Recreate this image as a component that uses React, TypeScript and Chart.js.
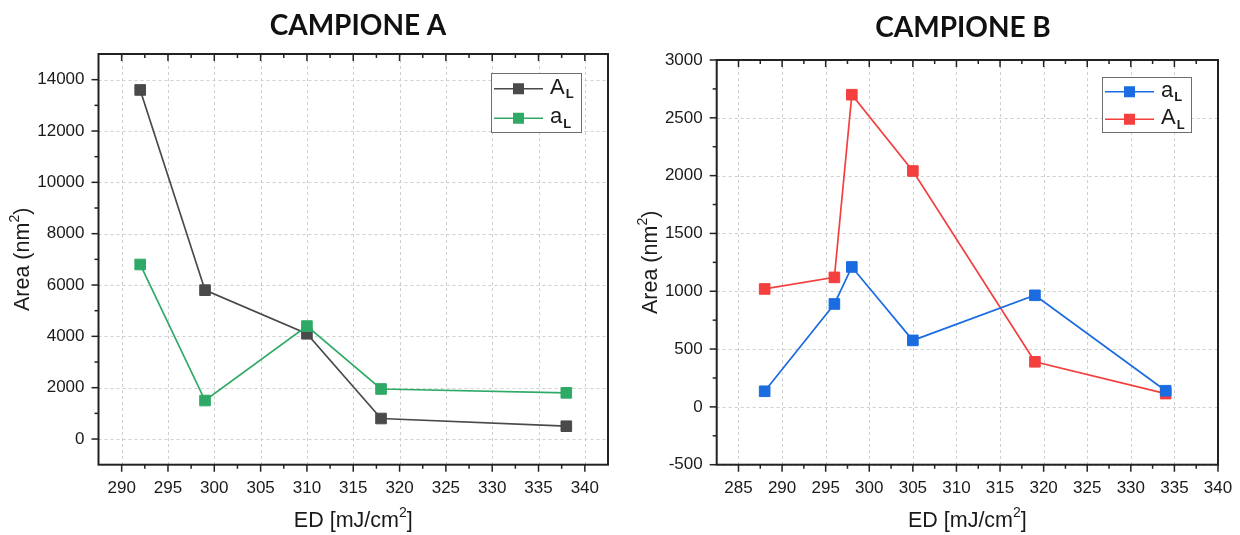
import React, { useEffect, useRef } from "react";
import { Chart, registerables } from "chart.js";

Chart.register(...registerables);

// ---- Campione A ----
const edA = [292, 299, 310, 318, 338];
const bigAreaA = [13600, 5800, 4100, 800, 500]; // A_L
const smallAreaA = [6800, 1500, 4400, 1950, 1800]; // a_L
const xTicksA = [290, 295, 300, 305, 310, 315, 320, 325, 330, 335, 340];
const yTicksA = [0, 2000, 4000, 6000, 8000, 10000, 12000, 14000];

// ---- Campione B ----
const edB = [288, 296, 298, 305, 319, 334];
const smallAreaB = [135, 890, 1210, 575, 965, 140]; // a_L
const bigAreaB = [1020, 1120, 2700, 2040, 390, 115]; // A_L
const xTicksB = [285, 290, 295, 300, 305, 310, 315, 320, 325, 330, 335, 340];
const yTicksB = [-500, 0, 500, 1000, 1500, 2000, 2500, 3000];

const FONT = "'Liberation Sans', Arial, sans-serif";

type LegendItem = { color: string; main: string; sub: string };

type FrameOpts = {
  title: string;
  titleX: number;
  titleY: number;
  xTicks: number[];
  yTicks: number[];
  xStep: number;
  yStep: number;
  legend: { x: number; y: number; w: number; h: number; items: LegendItem[] };
  yTitleX: number;
  xTitleY: number;
};

// draw text runs (with raised/lowered small parts), centred on (cx, cy)
function drawScripted(
  ctx: CanvasRenderingContext2D,
  parts: { t: string; size: number; dy: number; bold?: boolean }[],
  cx: number,
  cy: number
) {
  let total = 0;
  const widths = parts.map((p) => {
    ctx.font = `${p.bold ? "bold " : ""}${p.size}px ${FONT}`;
    const w = ctx.measureText(p.t).width;
    total += w;
    return w;
  });
  let x = cx - total / 2;
  ctx.textBaseline = "middle";
  ctx.textAlign = "left";
  parts.forEach((p, i) => {
    ctx.font = `${p.bold ? "bold " : ""}${p.size}px ${FONT}`;
    ctx.fillText(p.t, x, cy + p.dy);
    x += widths[i];
  });
}

const framePlugin = {
  id: "frame",
  beforeDatasetsDraw(chart: any, _args: any, o: FrameOpts) {
    const { ctx, chartArea: a } = chart;
    const xs = chart.scales.x;
    const ys = chart.scales.y;
    ctx.save();
    ctx.strokeStyle = "#cfcfcf";
    ctx.lineWidth = 1;
    ctx.setLineDash([3, 3]);
    o.xTicks.forEach((v) => {
      const px = Math.round(xs.getPixelForValue(v)) + 0.5;
      ctx.beginPath();
      ctx.moveTo(px, a.top);
      ctx.lineTo(px, a.bottom);
      ctx.stroke();
    });
    o.yTicks.forEach((v) => {
      const py = Math.round(ys.getPixelForValue(v)) + 0.5;
      ctx.beginPath();
      ctx.moveTo(a.left, py);
      ctx.lineTo(a.right, py);
      ctx.stroke();
    });
    ctx.restore();
  },
  afterDraw(chart: any, _args: any, o: FrameOpts) {
    const { ctx, chartArea: a } = chart;
    const xs = chart.scales.x;
    const ys = chart.scales.y;
    ctx.save();

    // plot frame
    ctx.strokeStyle = "#222";
    ctx.lineWidth = 2;
    ctx.setLineDash([]);
    ctx.strokeRect(a.left, a.top, a.right - a.left, a.bottom - a.top);

    // tick marks: bottom outward, top inward, left outward
    ctx.lineWidth = 1.5;
    const xMin = xs.min, xMax = xs.max, yMin = ys.min, yMax = ys.max;
    const xMarks: [number, number][] = [];
    o.xTicks.forEach((v) => {
      xMarks.push([v, 7]);
      [v - o.xStep / 2, v + o.xStep / 2].forEach((m) => {
        if (m > xMin && m < xMax && !xMarks.some((q) => q[0] === m)) xMarks.push([m, 4]);
      });
    });
    xMarks.forEach(([v, len]) => {
      const px = xs.getPixelForValue(v);
      ctx.beginPath();
      ctx.moveTo(px, a.bottom);
      ctx.lineTo(px, a.bottom + len);
      ctx.moveTo(px, a.top);
      ctx.lineTo(px, a.top + len);
      ctx.stroke();
    });
    const yMarks: [number, number][] = [];
    o.yTicks.forEach((v) => {
      yMarks.push([v, 7]);
      [v - o.yStep / 2, v + o.yStep / 2].forEach((m) => {
        if (m > yMin && m < yMax && !yMarks.some((q) => q[0] === m)) yMarks.push([m, 4]);
      });
    });
    yMarks.forEach(([v, len]) => {
      const py = ys.getPixelForValue(v);
      ctx.beginPath();
      ctx.moveTo(a.left, py);
      ctx.lineTo(a.left - len, py);
      ctx.stroke();
    });

    // axis titles
    ctx.fillStyle = "#1a1a1a";
    drawScripted(
      ctx,
      [
        { t: "ED [mJ/cm", size: 21.5, dy: 0 },
        { t: "2", size: 14, dy: -7.5 },
        { t: "]", size: 21.5, dy: 0 },
      ],
      (a.left + a.right) / 2,
      o.xTitleY
    );
    ctx.save();
    ctx.translate(o.yTitleX, (a.top + a.bottom) / 2);
    ctx.rotate(-Math.PI / 2);
    drawScripted(
      ctx,
      [
        { t: "Area (nm", size: 21.5, dy: 0 },
        { t: "2", size: 14, dy: -7.5 },
        { t: ")", size: 21.5, dy: 0 },
      ],
      0,
      0
    );
    ctx.restore();

    // chart title
    ctx.font = `bold 28px Lato, 'Open Sans', sans-serif`;
    ctx.textAlign = "center";
    ctx.textBaseline = "middle";
    ctx.fillStyle = "#111";
    ctx.fillText(o.title, o.titleX, o.titleY);

    // legend
    const L = o.legend;
    ctx.fillStyle = "#fff";
    ctx.fillRect(L.x, L.y, L.w, L.h);
    ctx.strokeStyle = "#6e6e6e";
    ctx.lineWidth = 1;
    ctx.strokeRect(L.x + 0.5, L.y + 0.5, L.w, L.h);
    const rowH = L.h / L.items.length;
    L.items.forEach((it, i) => {
      const cy = L.y + rowH * (i + 0.5) + 1;
      ctx.strokeStyle = it.color;
      ctx.lineWidth = 1.6;
      ctx.beginPath();
      ctx.moveTo(L.x + 3, cy);
      ctx.lineTo(L.x + 52, cy);
      ctx.stroke();
      ctx.fillStyle = it.color;
      ctx.fillRect(L.x + 27.5 - 5.5, cy - 5.5, 11, 11);
      ctx.fillStyle = "#1a1a1a";
      ctx.font = `22px ${FONT}`;
      ctx.textAlign = "left";
      ctx.textBaseline = "middle";
      ctx.fillText(it.main, L.x + 59, cy - 1);
      const w = ctx.measureText(it.main).width;
      ctx.font = `bold 13px ${FONT}`;
      ctx.fillText(it.sub, L.x + 60 + w, cy + 6);
    });

    ctx.restore();
  },
};

type PanelProps = {
  series: { label: string; xs: number[]; ys: number[]; color: string; order: number }[];
  xRange: [number, number];
  yRange: [number, number];
  xTicks: number[];
  yTicks: number[];
  area: { left: number; right: number; top: number; bottom: number };
  frame: FrameOpts;
};

const W = 620;
const H = 535;

function Panel(p: PanelProps) {
  const ref = useRef<HTMLCanvasElement | null>(null);
  useEffect(() => {
    if (!ref.current) return;
    const tickFont = { family: FONT, size: 17 };
    const chart = new Chart(ref.current, {
      type: "line",
      data: {
        datasets: p.series.map((s) => ({
          label: s.label,
          data: s.xs.map((x, i) => ({ x, y: s.ys[i] })),
          borderColor: s.color,
          backgroundColor: s.color,
          borderWidth: 1.7,
          pointStyle: "rect",
          pointRadius: 7.5,
          pointBorderWidth: 1,
          pointBorderColor: s.color,
          pointBackgroundColor: s.color,
          tension: 0,
          order: s.order,
        })),
      },
      options: {
        responsive: false,
        animation: false,
        devicePixelRatio: 1,
        layout: {
          padding: { left: 0, top: p.area.top, right: W - p.area.right, bottom: 0 },
        },
        plugins: {
          legend: { display: false },
          tooltip: { enabled: false },
          title: { display: false },
          frame: p.frame,
        } as any,
        scales: {
          x: {
            type: "linear",
            min: p.xRange[0],
            max: p.xRange[1],
            grid: { display: false, drawTicks: false },
            border: { display: false },
            afterBuildTicks: (s: any) => {
              s.ticks = p.xTicks.map((v) => ({ value: v }));
            },
            afterFit: (s: any) => {
              s.height = H - p.area.bottom;
              s.paddingLeft = 0;
              s.paddingRight = 0;
            },
            ticks: {
              font: tickFont,
              color: "#1a1a1a",
              padding: 13,
              autoSkip: false,
              maxRotation: 0,
              callback: (v: any) => String(v),
            },
          },
          y: {
            type: "linear",
            min: p.yRange[0],
            max: p.yRange[1],
            grid: { display: false, drawTicks: false },
            border: { display: false },
            afterBuildTicks: (s: any) => {
              s.ticks = p.yTicks.map((v) => ({ value: v }));
            },
            afterFit: (s: any) => {
              s.width = p.area.left;
              s.paddingTop = 0;
              s.paddingBottom = 0;
            },
            ticks: {
              font: tickFont,
              color: "#1a1a1a",
              padding: 14,
              autoSkip: false,
              callback: (v: any) => String(v),
            },
          },
        },
      } as any,
      plugins: [framePlugin as any],
    });
    return () => chart.destroy();
  }, []);
  return <canvas ref={ref} width={W} height={H} style={{ display: "block", width: W, height: H }} />;
}

export default function App() {
  return (
    <div
      style={{
        position: "absolute",
        left: 0,
        top: 0,
        width: 1240,
        height: 535,
        background: "#fff",
        display: "flex",
      }}
    >
      <Panel
        series={[
          { label: "A_L", xs: edA, ys: bigAreaA, color: "#4a4a4a", order: 1 },
          { label: "a_L", xs: edA, ys: smallAreaA, color: "#2eaa66", order: 0 },
        ]}
        xRange={[287.5, 342.5]}
        yRange={[-1000, 15000]}
        xTicks={xTicksA}
        yTicks={yTicksA}
        area={{ left: 98.5, right: 608, top: 54, bottom: 464.7 }}
        frame={{
          title: "CAMPIONE A",
          titleX: 358,
          titleY: 26,
          xTicks: xTicksA,
          yTicks: yTicksA,
          xStep: 5,
          yStep: 2000,
          legend: {
            x: 491,
            y: 73,
            w: 90,
            h: 59,
            items: [
              { color: "#4a4a4a", main: "A", sub: "L" },
              { color: "#2eaa66", main: "a", sub: "L" },
            ],
          },
          yTitleX: 23,
          xTitleY: 521,
        }}
      />
      <Panel
        series={[
          { label: "a_L", xs: edB, ys: smallAreaB, color: "#1a6ce0", order: 0 },
          { label: "A_L", xs: edB, ys: bigAreaB, color: "#f43f3f", order: 1 },
        ]}
        xRange={[282.5, 340]}
        yRange={[-500, 3000]}
        xTicks={xTicksB}
        yTicks={yTicksB}
        area={{ left: 96.7, right: 598, top: 60, bottom: 464.7 }}
        frame={{
          title: "CAMPIONE B",
          titleX: 343,
          titleY: 28,
          xTicks: xTicksB,
          yTicks: yTicksB,
          xStep: 5,
          yStep: 500,
          legend: {
            x: 482,
            y: 77,
            w: 89,
            h: 55,
            items: [
              { color: "#1a6ce0", main: "a", sub: "L" },
              { color: "#f43f3f", main: "A", sub: "L" },
            ],
          },
          yTitleX: 31,
          xTitleY: 521,
        }}
      />
    </div>
  );
}
